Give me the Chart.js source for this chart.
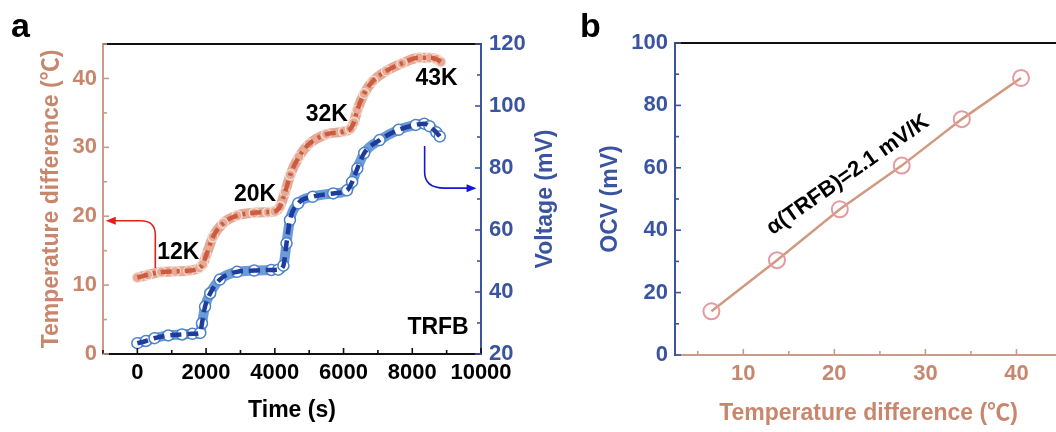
<!DOCTYPE html>
<html>
<head>
<meta charset="utf-8">
<script src="https://cdn.jsdelivr.net/npm/chart.js@4.4.0/dist/chart.umd.min.js"></script>
<style>
  body { margin: 0; width: 1056px; height: 432px; overflow: hidden; background: #fff; position: relative; }
  .panel { position: absolute; top: 0; }
  #wrapA { left: 0; }
  #wrapB { left: 560px; }
</style>
</head>
<body>
<div class="panel" id="wrapA"><canvas id="chartA" width="570" height="432"></canvas></div>
<div class="panel" id="wrapB"><canvas id="chartB" width="520" height="432"></canvas></div>
<script>
// panel a - temperature difference (left axis) and voltage (right axis) over time
const timeT = [0, 300, 700, 1100, 1500, 1800, 1900, 2000, 2200, 2500, 2900, 3400, 3800, 4000, 4150, 4300,
  4450, 4700, 5000, 5500, 6000, 6200, 6300, 6400, 6600, 6850, 7250, 7700, 8200, 8500, 8700, 8830];
const tempT = [11.1, 11.5, 11.9, 12.0, 12.1, 12.5, 13.0, 14.3, 17.0, 19.0, 20.1, 20.5, 20.6, 20.7, 21.4, 23.5,
  26.0, 28.6, 30.5, 31.9, 32.3, 32.7, 33.6, 35.4, 37.8, 39.6, 41.1, 42.2, 43.0, 43.0, 42.8, 42.4];

const timeV = [0, 250, 500, 900, 1300, 1600, 1830, 1880, 1970, 2120, 2400, 2900, 3400, 3900, 4100, 4250,
  4340, 4440, 4680, 5100, 5700, 6100, 6250, 6400, 6600, 7050, 7600, 8100, 8350, 8500, 8700, 8800];
const volt = [23.5, 24.2, 25.1, 26.0, 26.3, 26.5, 26.8, 29.9, 35.3, 39.6, 44.0, 46.5, 46.9, 47.1, 47.2, 48.5,
  55.7, 63.2, 68.6, 70.7, 71.8, 72.8, 75.5, 79.8, 84.8, 89.0, 92.3, 93.9, 94.3, 93.5, 91.5, 90.2];

const timeLabels = [0, 2000, 4000, 6000, 8000, 10000];
const tempLabels = [0, 10, 20, 30, 40];
const voltLabels = [20, 40, 60, 80, 100, 120];

// panel b - OCV against temperature difference
const tempDiff = [6.5, 13.7, 20.6, 27.4, 34.0, 40.5];
const ocv = [14.0, 30.4, 46.7, 60.7, 75.6, 88.8];

const dTLabels = [10, 20, 30, 40];
const ocvLabels = [0, 20, 40, 60, 80, 100];

const FONT = "'Liberation Sans', Arial, 'Noto Sans CJK SC', sans-serif";
const tickFont = { family: FONT, size: 22, weight: 'bold' };
const titleFont = { family: FONT, size: 23, weight: 'bold' };

const TAN = '#c8866c';
const TAN_AXIS = '#c99b8a';
const BLUE = '#3b54a0';

function makeTicks(min, max, step) {
  const out = [];
  for (let v = Math.ceil(min / step) * step; v <= max + 1e-9; v += step) {
    out.push({ value: +v.toFixed(6) });
  }
  return out;
}

function labelsFrom(list) {
  return v => list.includes(v) ? String(v) : '';
}

function toPoints(xs, ys) {
  return xs.map((x, i) => ({ x: x, y: ys[i] }));
}

// inward tick marks plus the black frame line on top
const frameTicks = {
  id: 'frameTicks',
  afterDraw(chart) {
    const ctx = chart.ctx;
    const area = chart.chartArea;
    ctx.save();
    ctx.strokeStyle = '#111';
    ctx.lineWidth = 2;
    ctx.beginPath();
    ctx.moveTo(area.left, area.top);
    ctx.lineTo(area.right, area.top);
    ctx.stroke();
    Object.values(chart.scales).forEach(scale => {
      ctx.strokeStyle = scale.options.border.color;
      ctx.lineWidth = 1.6;
      scale.ticks.forEach(t => {
        const p = scale.getPixelForValue(t.value);
        const len = t.label ? 6 : 4;
        ctx.beginPath();
        if (scale.position === 'left') {
          ctx.moveTo(area.left, p); ctx.lineTo(area.left + len, p);
        } else if (scale.position === 'right') {
          ctx.moveTo(area.right, p); ctx.lineTo(area.right - len, p);
        } else {
          ctx.moveTo(p, area.bottom); ctx.lineTo(p, area.bottom - len);
        }
        ctx.stroke();
      });
    });
    ctx.restore();
  }
};

function arrow(ctx, pts, ctrl, color) {
  // pts: start, bend start, bend end, tip ; ctrl: quadratic control point
  const [a, b, c, tip] = pts;
  ctx.save();
  ctx.strokeStyle = color;
  ctx.fillStyle = color;
  ctx.lineWidth = 1.6;
  ctx.beginPath();
  ctx.moveTo(a.x, a.y);
  ctx.lineTo(b.x, b.y);
  ctx.quadraticCurveTo(ctrl.x, ctrl.y, c.x, c.y);
  const dir = Math.sign(tip.x - c.x);
  ctx.lineTo(tip.x - dir * 8, tip.y);
  ctx.stroke();
  ctx.beginPath();
  ctx.moveTo(tip.x, tip.y);
  ctx.lineTo(tip.x - dir * 10, tip.y - 4);
  ctx.lineTo(tip.x - dir * 10, tip.y + 4);
  ctx.closePath();
  ctx.fill();
  ctx.restore();
}

const notesA = {
  id: 'notesA',
  afterDraw(chart) {
    const ctx = chart.ctx;
    const { x, yT, yV } = chart.scales;
    const area = chart.chartArea;
    ctx.save();
    ctx.fillStyle = '#000';
    ctx.textAlign = 'center';
    ctx.textBaseline = 'middle';
    ctx.font = 'bold 23px ' + FONT;
    [['12K', 1190, 14.7], ['20K', 3425, 23.1], ['32K', 5515, 34.8], ['43K', 8708, 39.9], ['TRFB', 8750, 3.8]].forEach(n => {
      ctx.fillText(n[0], x.getPixelForValue(n[1]), yT.getPixelForValue(n[2]));
    });

    // panel letter
    ctx.textAlign = 'left';
    ctx.textBaseline = 'alphabetic';
    ctx.font = 'bold 34px ' + FONT;
    ctx.fillText('a', 11, 37);

    // right axis title, reading bottom to top
    ctx.save();
    ctx.translate(546, (area.top + area.bottom) / 2);
    ctx.rotate(-Math.PI / 2);
    ctx.textAlign = 'center';
    ctx.textBaseline = 'middle';
    ctx.fillStyle = BLUE;
    ctx.font = 'bold 23px ' + FONT;
    ctx.fillText('Voltage (mV)', 0, 0);
    ctx.restore();
    ctx.restore();

    const pT = (t, v) => ({ x: x.getPixelForValue(t), y: yT.getPixelForValue(v) });
    const pV = (t, v) => ({ x: x.getPixelForValue(t), y: yV.getPixelForValue(v) });
    arrow(ctx, [pT(522, 12.5), pT(522, 17.3), pT(87, 19.35), pT(-920, 19.35)], pT(522, 19.35), '#e01f1f');
    arrow(ctx, [pV(8360, 87.1), pV(8360, 78.7), pV(8940, 73.5), pV(9870, 73.5)], pV(8360, 73.5), '#1616d8');
  }
};

const notesB = {
  id: 'notesB',
  afterDraw(chart) {
    const ctx = chart.ctx;
    const { x, y } = chart.scales;
    ctx.save();
    ctx.fillStyle = '#000';
    ctx.font = 'bold 34px ' + FONT;
    ctx.fillText('b', 20, 37);
    ctx.translate(x.getPixelForValue(21.5), y.getPixelForValue(57.7));
    ctx.rotate(-35 * Math.PI / 180);
    ctx.textAlign = 'center';
    ctx.textBaseline = 'middle';
    ctx.font = 'bold 22px ' + FONT;
    ctx.fillText('\u03b1(TRFB)=2.1 mV/K', 0, 0);
    ctx.restore();
  }
};

new Chart(document.getElementById('chartA'), {
  type: 'scatter',
  data: {
    datasets: [
      {
        data: toPoints(timeT, tempT), yAxisID: 'yT', showLine: true, order: 1,
        borderColor: '#cd5b3f', borderWidth: 4.5, borderDash: [11, 5, 3, 5],
        pointRadius: 0, cubicInterpolationMode: 'monotone'
      },
      {
        data: toPoints(timeT, tempT), yAxisID: 'yT', showLine: true, order: 2,
        borderColor: '#e6ab97', borderWidth: 10,
        pointRadius: 5, pointBackgroundColor: '#e6ab97', pointBorderColor: '#f7e1d8', pointBorderWidth: 1.2,
        cubicInterpolationMode: 'monotone'
      },
      {
        data: toPoints(timeV, volt), yAxisID: 'yV', showLine: true, order: 1,
        borderColor: '#1f3b9c', borderWidth: 4.5, borderDash: [11, 6],
        pointRadius: 0, cubicInterpolationMode: 'monotone'
      },
      {
        data: toPoints(timeV, volt), yAxisID: 'yV', showLine: true, order: 2,
        borderColor: '#6b9bd8', borderWidth: 10,
        pointRadius: 5.5, pointBackgroundColor: '#ffffff', pointBorderColor: '#4a82c8', pointBorderWidth: 1.5,
        cubicInterpolationMode: 'monotone'
      }
    ]
  },
  options: {
    responsive: false,
    animation: false,
    layout: { padding: { left: 34, top: 44, right: 10, bottom: 4 } },
    plugins: { legend: { display: false }, tooltip: { enabled: false } },
    scales: {
      x: {
        type: 'linear', position: 'bottom', min: -1000, max: 10000,
        afterBuildTicks: s => { s.ticks = makeTicks(-1000, 10000, 1000); },
        afterFit: s => { s.height = 74; },
        ticks: { callback: labelsFrom(timeLabels), color: '#000', font: tickFont, padding: 6, maxRotation: 0, autoSkip: false },
        grid: { display: false, drawTicks: false },
        border: { display: true, color: '#111', width: 2 },
        title: { display: true, text: 'Time (s)', color: '#000', font: titleFont, padding: { top: 4, bottom: 4 } }
      },
      yT: {
        type: 'linear', position: 'left', min: 0, max: 45,
        afterBuildTicks: s => { s.ticks = makeTicks(0, 45, 5); },
        afterFit: s => { s.width = 69; },
        ticks: { callback: labelsFrom(tempLabels), color: TAN, font: tickFont, padding: 6, autoSkip: false },
        grid: { display: false, drawTicks: false },
        border: { display: true, color: TAN_AXIS, width: 2 },
        title: { display: true, text: 'Temperature difference (\u2103)', color: TAN, font: titleFont, padding: { top: 4, bottom: 4 } }
      },
      yV: {
        type: 'linear', position: 'right', min: 20, max: 120,
        afterBuildTicks: s => { s.ticks = makeTicks(20, 120, 10); },
        afterFit: s => { s.width = 79; },
        ticks: { callback: labelsFrom(voltLabels), color: BLUE, font: tickFont, padding: 8, autoSkip: false },
        grid: { display: false, drawTicks: false },
        border: { display: true, color: BLUE, width: 2 },
        title: { display: false }
      }
    }
  },
  plugins: [frameTicks, notesA]
});

new Chart(document.getElementById('chartB'), {
  type: 'scatter',
  data: {
    datasets: [{
      data: toPoints(tempDiff, ocv), showLine: true,
      borderColor: '#cf9a80', borderWidth: 2.5,
      pointRadius: 8, pointBorderWidth: 2, pointBorderColor: '#e39ba0', pointBackgroundColor: 'rgba(0,0,0,0)'
    }]
  },
  options: {
    responsive: false,
    animation: false,
    layout: { padding: { left: 33, top: 43, right: 18, bottom: 1 } },
    plugins: { legend: { display: false }, tooltip: { enabled: false } },
    scales: {
      x: {
        type: 'linear', position: 'bottom', min: 2.5, max: 45,
        afterBuildTicks: s => { s.ticks = makeTicks(2.5, 45, 5); },
        afterFit: s => { s.height = 76; },
        ticks: { callback: labelsFrom(dTLabels), color: TAN, font: tickFont, padding: 6, maxRotation: 0, autoSkip: false },
        grid: { display: false, drawTicks: false },
        border: { display: true, color: TAN_AXIS, width: 2 },
        title: { display: true, text: 'Temperature difference (\u2103)', color: TAN, font: titleFont, padding: { top: 4, bottom: 4 } }
      },
      y: {
        type: 'linear', position: 'left', min: 0, max: 100,
        afterBuildTicks: s => { s.ticks = makeTicks(0, 100, 10); },
        afterFit: s => { s.width = 82; },
        ticks: { callback: labelsFrom(ocvLabels), color: BLUE, font: tickFont, padding: 7, autoSkip: false },
        grid: { display: false, drawTicks: false },
        border: { display: true, color: BLUE, width: 2 },
        title: { display: true, text: 'OCV (mV)', color: BLUE, font: titleFont, padding: { top: 4, bottom: 4 } }
      }
    }
  },
  plugins: [frameTicks, notesB]
});
</script>
</body>
</html>
